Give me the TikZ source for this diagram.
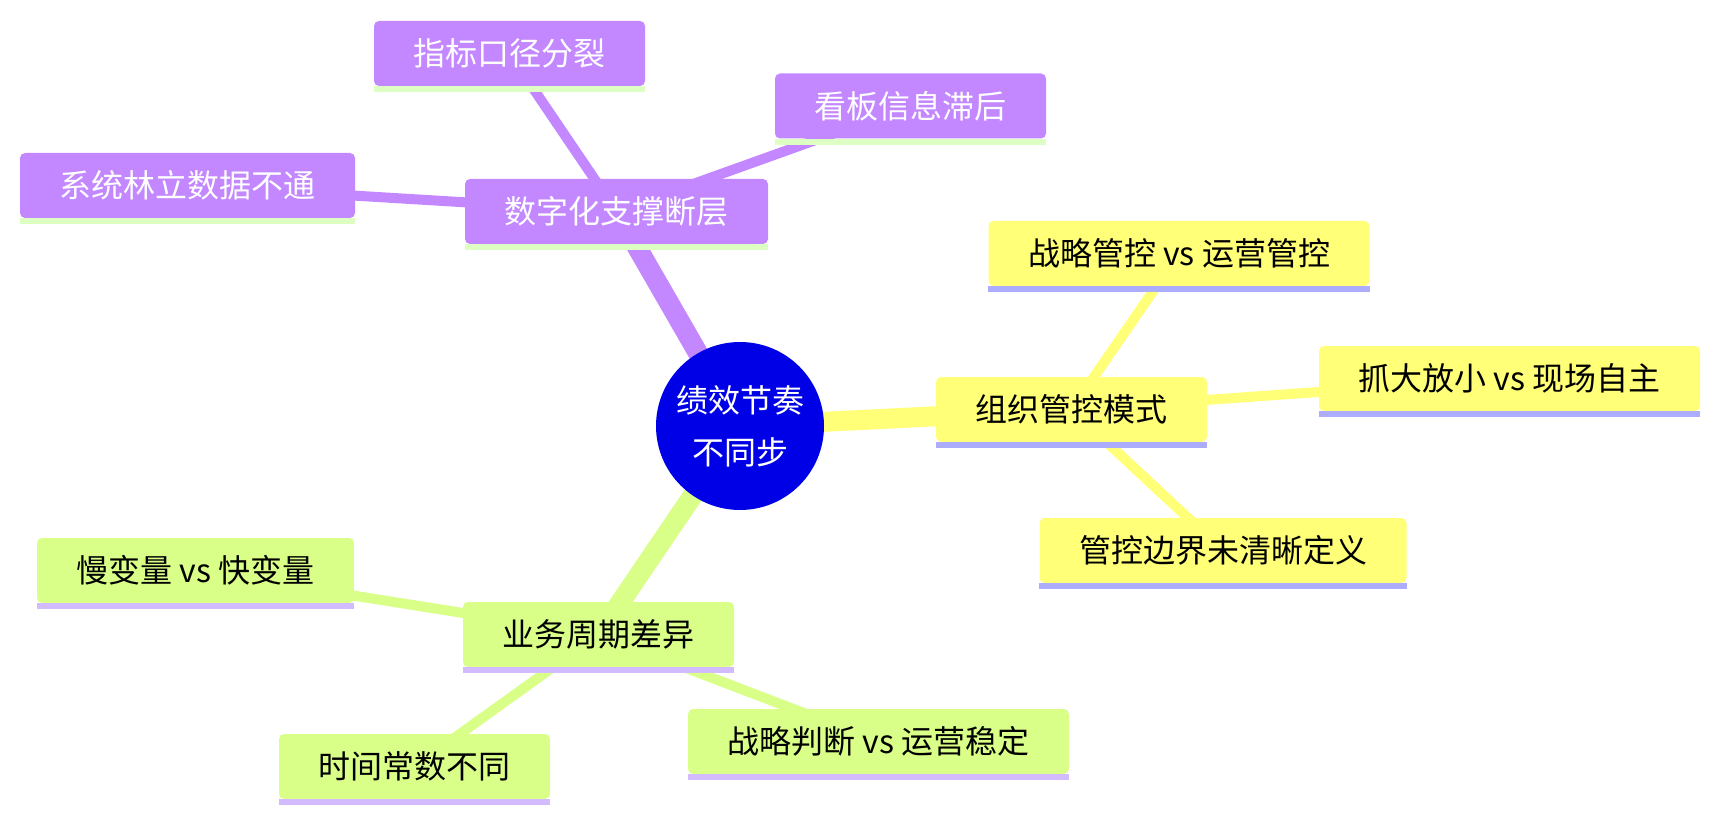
\documentclass[tikz,border=0pt]{standalone}
\usepackage{fontspec}
\setmainfont{Noto Sans CJK SC}
\usetikzlibrary{backgrounds}

\definecolor{rootblue}{HTML}{0000E6}
\definecolor{violetbox}{HTML}{C387FF}
\definecolor{yellowbox}{HTML}{FFFF78}
\definecolor{limebox}{HTML}{D9FF88}
\definecolor{violetline}{HTML}{DDFFC4}
\definecolor{yellowline}{HTML}{ADADFF}
\definecolor{limeline}{HTML}{D2BCFF}

% Unterstrich unter einem Knoten
\newcommand{\topicline}[2]{\fill[#2] (#1.south west) rectangle ([yshift=-6pt]#1.south east);}

\begin{document}
\begin{tikzpicture}[x=1pt, y=-1pt,
    box/.style={rounded corners=5pt, minimum height=65pt, inner xsep=39.5pt, inner ysep=0pt,
                font=\fontsize{32}{36}\selectfont},
    violettopic/.style={box, fill=violetbox, text=white},
    yellowtopic/.style={box, fill=yellowbox, text=black},
    limetopic/.style={box, fill=limebox, text=black},
    mainedge/.style={line width=20pt},
    subedge/.style={line width=10pt}]
    \useasboundingbox (0,0) rectangle (1721,821);

    % Mitte
    \node[circle, fill=rootblue, text=white, minimum size=168pt, inner sep=0pt, align=center,
          font=\fontsize{32}{52}\selectfont] (root) at (740,426) {绩效节奏\\不同步};

    % Zweig: Digitalisierung
    \node[violettopic] (digit) at (616.5,211.5) {数字化支撑断层};
    \node[violettopic] (metric) at (509.5,53.5) {指标口径分裂};
    \node[violettopic] (board) at (910.5,106) {看板信息滞后};
    \node[violettopic] (silo) at (187.5,185.5) {系统林立数据不通};

    % Zweig: Organisation
    \node[yellowtopic] (org) at (1071.5,409.5) {组织管控模式};
    \node[yellowtopic] (strat) at (1179,253.5) {战略管控 vs 运营管控};
    \node[yellowtopic] (grasp) at (1509.5,378.5) {抓大放小 vs 现场自主};
    \node[yellowtopic] (bound) at (1223,550.5) {管控边界未清晰定义};

    % Zweig: Geschaeftszyklus
    \node[limetopic] (cycle) at (598.5,634.5) {业务周期差异};
    \node[limetopic] (slow) at (195.5,570.5) {慢变量 vs 快变量};
    \node[limetopic] (tconst) at (414.5,766.5) {时间常数不同};
    \node[limetopic] (judge) at (878.5,741.5) {战略判断 vs 运营稳定};

    % Unterstriche
    \foreach \n in {digit, metric, board, silo} {\topicline{\n}{violetline}}
    \foreach \n in {org, strat, grasp, bound} {\topicline{\n}{yellowline}}
    \foreach \n in {cycle, slow, tconst, judge} {\topicline{\n}{limeline}}

    % Verbindungen
    \begin{pgfonlayer}{background}
        \draw[mainedge, violetbox] (root.center) -- (digit.center);
        \draw[mainedge, yellowbox] (root.center) -- (org.center);
        \draw[mainedge, limebox] (root.center) -- (cycle.center);
        \foreach \n in {metric, board, silo} {\draw[subedge, violetbox] (digit.center) -- (\n.center);}
        \foreach \n in {strat, grasp, bound} {\draw[subedge, yellowbox] (org.center) -- (\n.center);}
        \foreach \n in {slow, tconst, judge} {\draw[subedge, limebox] (cycle.center) -- (\n.center);}
    \end{pgfonlayer}
\end{tikzpicture}
\end{document}
